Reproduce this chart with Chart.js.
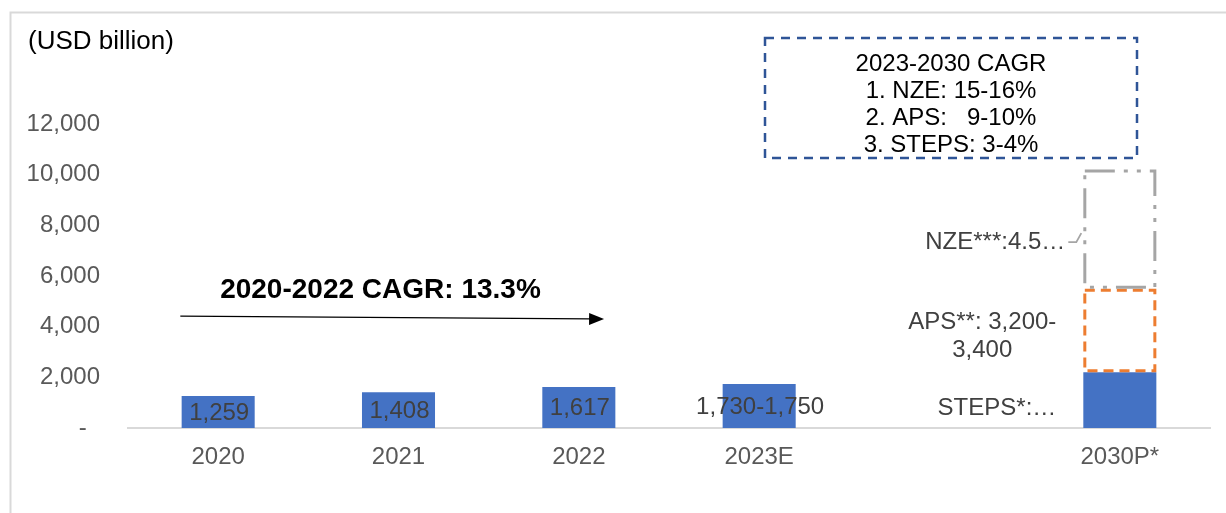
<!DOCTYPE html>
<html>
<head>
<meta charset="utf-8">
<script src="https://cdn.jsdelivr.net/npm/chart.js@4.4.0/dist/chart.umd.min.js"></script>
<style>
    html, body { margin: 0; padding: 0; background: #fff; }
    #wrap { width: 1226px; height: 513px; }
</style>
</head>
<body>
<div id="wrap"><canvas id="chart" width="1226" height="513"></canvas></div>
<script>
// ===== DADOS =====
const categories     = ['2020', '2021', '2022', '2023E', '', '2030P*'];
const baseValues     = [1259, 1408, 1617, 1740, null, 2200];   // histórico + STEPS 2030
const apsValues      = [null, null, null, null, null, 3300];
const nzeValues      = [null, null, null, null, null, 4700];
const baseLabels     = ['1,259', '1,408', '1,617', '1,730-1,750', '', ''];
const scenarioLabels = [['STEPS*:…'], ['APS**: 3,200-', '3,400'], ['NZE***:4.5…']];
const yTicks         = [0, 2000, 4000, 6000, 8000, 10000, 12000];
const unitLabel      = '(USD billion)';
const cagrTitle      = '2020-2022 CAGR: 13.3%';
const cagrBoxLines   = ['2023-2030 CAGR', '1. NZE: 15-16%', '2. APS:   9-10%', '3. STEPS: 3-4%'];

// ===== ESTILO =====
const FONT = "'Liberation Sans', Arial, sans-serif";
const BLUE = '#4472c4';
const ORANGE = '#ed7d31';
const GRAY = '#a5a5a5';
const TEXT = '#404040';
const AXIS_TEXT = '#595959';

Chart.defaults.font.family = FONT;
Chart.defaults.font.size = 24;

// moldura cinza clara do gráfico
const framePlugin = {
    id: 'frame',
    beforeDraw(chart) {
        const ctx = chart.ctx;
        ctx.save();
        ctx.strokeStyle = '#d9d9d9';
        ctx.lineWidth = 2;
        ctx.strokeRect(10.5, 12.5, chart.width + 20, chart.height + 20);
        ctx.restore();
    }
};

function barRect(el) {
    const p = el.getProps(['x', 'y', 'base', 'width'], true);
    return { left: p.x - p.width / 2, right: p.x + p.width / 2, top: p.y, bottom: p.base, cx: p.x };
}

// contornos tracejados dos cenários 2030
const scenarioBorders = {
    id: 'scenarioBorders',
    afterDatasetsDraw(chart) {
        const ctx = chart.ctx;
        const styles = [
            null,
            { color: ORANGE, dash: [10, 6] },
            { color: GRAY, dash: [30, 9, 4, 9, 4, 9] }
        ];
        ctx.save();
        ctx.lineWidth = 3;
        styles.forEach((s, di) => {
            if (!s) return;
            chart.getDatasetMeta(di).data.forEach((el, i) => {
                if (chart.data.datasets[di].data[i] == null) return;
                const r = barRect(el);
                ctx.strokeStyle = s.color;
                ctx.setLineDash(s.dash);
                ctx.strokeRect(r.left + 1.5, r.top + 1.5, r.right - r.left - 3, r.bottom - r.top - 3);
            });
        });
        ctx.restore();
    }
};

// rótulos, seta e caixa de CAGR
const annotations = {
    id: 'annotations',
    afterDraw(chart) {
        const ctx = chart.ctx;
        const xs = chart.scales.x, ys = chart.scales.y;
        ctx.save();
        ctx.font = '24px ' + FONT;
        ctx.textBaseline = 'middle';

        // rótulos dentro das barras
        ctx.fillStyle = TEXT;
        ctx.textAlign = 'center';
        chart.getDatasetMeta(0).data.forEach((el, i) => {
            if (!baseLabels[i]) return;
            const r = barRect(el);
            ctx.fillText(baseLabels[i], r.cx + 1, (r.top + r.bottom) / 2 + 1);
        });

        // rótulos dos cenários à esquerda da barra 2030
        const last = categories.length - 1;
        const offsets = [{ dx: 27, dy: 8 }, { dx: 27, dy: 6 }, { dx: 18, dy: 13 }];
        scenarioLabels.forEach((lines, di) => {
            const r = barRect(chart.getDatasetMeta(di).data[last]);
            const w = Math.max(...lines.map(t => ctx.measureText(t).width));
            const right = r.left - offsets[di].dx;
            const cy = (r.top + r.bottom) / 2 + offsets[di].dy;
            const lh = 28;
            lines.forEach((t, k) => {
                ctx.fillText(t, right - w / 2, cy + (k - (lines.length - 1) / 2) * lh);
            });
            if (di === 2) {
                ctx.strokeStyle = GRAY;
                ctx.lineWidth = 1.8;
                ctx.beginPath();
                ctx.moveTo(right + 3, cy);
                ctx.lineTo(r.left - 7, cy);
                ctx.lineTo(r.left - 2, cy - 9);
                ctx.stroke();
            }
        });

        // unidade
        ctx.fillStyle = '#000';
        ctx.textAlign = 'left';
        ctx.font = '26px ' + FONT;
        ctx.fillText(unitLabel, 28, 42);

        // seta CAGR 2020-2022
        const x0 = xs.getPixelForValue(-0.21), y0 = ys.getPixelForValue(4420);
        const x1 = xs.getPixelForValue(2.14),  y1 = ys.getPixelForValue(4300);
        const ang = Math.atan2(y1 - y0, x1 - x0);
        ctx.strokeStyle = '#000';
        ctx.fillStyle = '#000';
        ctx.lineWidth = 1.3;
        ctx.beginPath();
        ctx.moveTo(x0, y0);
        ctx.lineTo(x1 - 14 * Math.cos(ang), y1 - 14 * Math.sin(ang));
        ctx.stroke();
        ctx.beginPath();
        ctx.moveTo(x1, y1);
        ctx.lineTo(x1 - 15 * Math.cos(ang) + 6 * Math.sin(ang), y1 - 15 * Math.sin(ang) - 6 * Math.cos(ang));
        ctx.lineTo(x1 - 15 * Math.cos(ang) - 6 * Math.sin(ang), y1 - 15 * Math.sin(ang) + 6 * Math.cos(ang));
        ctx.closePath();
        ctx.fill();

        ctx.font = 'bold 28px ' + FONT;
        ctx.textAlign = 'center';
        ctx.fillText(cagrTitle, xs.getPixelForValue(0.9), ys.getPixelForValue(5450));

        // caixa tracejada 2023-2030
        ctx.strokeStyle = '#2f5597';
        ctx.lineWidth = 2.5;
        ctx.setLineDash([9, 7]);
        ctx.strokeRect(765, 38, 372, 120);
        ctx.setLineDash([]);
        ctx.font = '24px ' + FONT;
        ctx.fillStyle = '#000';
        cagrBoxLines.forEach((t, k) => ctx.fillText(t, 951, 64 + k * 27));

        ctx.restore();
    }
};

new Chart(document.getElementById('chart'), {
    type: 'bar',
    data: {
        labels: categories,
        datasets: [
            { label: 'Base / STEPS', data: baseValues, backgroundColor: BLUE },
            { label: 'APS', data: apsValues, backgroundColor: '#ffffff' },
            { label: 'NZE', data: nzeValues, backgroundColor: '#ffffff' }
        ]
    },
    options: {
        responsive: false,
        animation: false,
        layout: { padding: { top: 124, left: 0, right: 16, bottom: 0 } },
        datasets: { bar: { categoryPercentage: 1, barPercentage: 0.405, borderWidth: 0 } },
        plugins: { legend: { display: false }, tooltip: { enabled: false } },
        scales: {
            x: {
                stacked: true,
                grid: { display: false, drawTicks: false },
                border: { display: true, color: '#d9d9d9', width: 2 },
                ticks: { color: AXIS_TEXT, font: { size: 24 }, padding: 15, maxRotation: 0 },
                afterFit: s => { s.height = 85; }
            },
            y: {
                stacked: true,
                min: 0,
                max: 12000,
                grid: { display: false, drawTicks: false },
                border: { display: false },
                ticks: {
                    color: AXIS_TEXT,
                    font: { size: 24 },
                    padding: 28,
                    callback: v => v === 0 ? '-  ' : v.toLocaleString('en-US')
                },
                afterBuildTicks: s => { s.ticks = yTicks.map(v => ({ value: v })); },
                afterFit: s => { s.width = 128; }
            }
        }
    },
    plugins: [framePlugin, scenarioBorders, annotations]
});
</script>
</body>
</html>
